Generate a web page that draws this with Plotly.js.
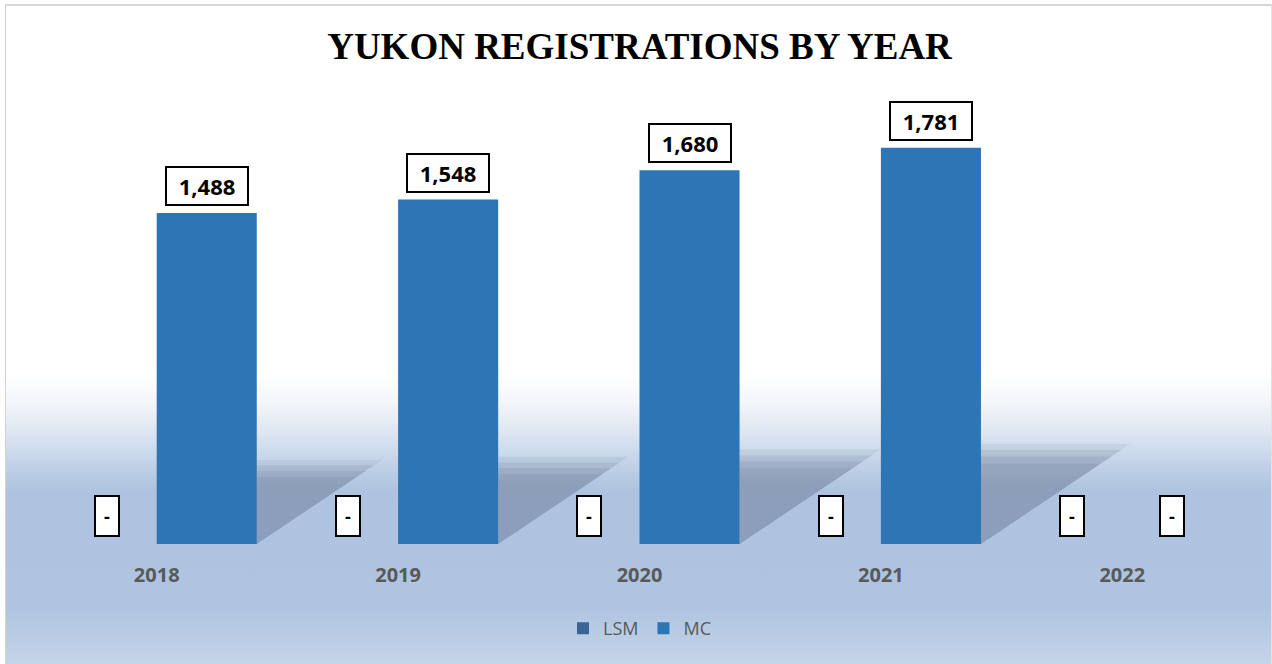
<!DOCTYPE html>
<html>
<head>
<meta charset="utf-8">
<script src="https://cdn.plot.ly/plotly-3.0.1.min.js"></script>
<style>
  html, body { margin: 0; padding: 0; background: #ffffff; }
  #frame {
    position: absolute; left: 5px; top: 4px; width: 1265px; height: 660px;
    border-left: 1px solid #d2d2d2; border-top: 2px solid #d6d6d6; border-right: 1px solid #e2e2e2;
    background: linear-gradient(to bottom,
      #ffffff 0px, #ffffff 366px, #f3f6fa 396px, #e4eaf4 418px, #d3dfee 438px,
      #c0d0e6 460px, #adc3df 485px, #aec4e0 600px, #c5d5e9 660px);
  }
  #chart { position: absolute; left: 0; top: 0; width: 1272px; height: 664px; }
</style>
</head>
<body>
<div id="frame"></div>
<div id="chart"></div>
<script>
// ---- data ----
var years = ['2018', '2019', '2020', '2021', '2022'];
var lsmValues = [0, 0, 0, 0, 0];
var mcValues = [1488, 1548, 1680, 1781, 0];
var seriesNames = ['LSM', 'MC'];
var chartTitle = 'YUKON REGISTRATIONS BY YEAR';

// ---- styling / geometry ----
var idx = years.map(function (_, i) { return i; });
var bargap = 0.171;
var barW = (1 - bargap) / 2;          // width of one bar in category units
var lsmColor = '#3C6597';
var mcColor = '#2E75B6';

function fmt(v) { return v === 0 ? '-' : v.toLocaleString('en-US'); }

var traces = [];

// soft shadows cast by the MC bars (decoration derived from the bar values),
// built from a few stacked translucent layers to imitate a blur
var shadowLayers = [
  { grow: 1.10, alpha: 0.10 },
  { grow: 1.03, alpha: 0.12 },
  { grow: 0.96, alpha: 0.13 },
  { grow: 0.88, alpha: 0.12 }
];
mcValues.forEach(function (v, i) {
  if (v === 0) return;
  var xr = i + barW;                   // right edge of MC bar
  shadowLayers.forEach(function (L) {
    var dx = v * 0.000316 * L.grow;
    var dy = v * 0.23 * L.grow;
    traces.push({
      type: 'scatter', mode: 'lines', x: [xr, xr + dx, xr, xr], y: [0, dy, dy, 0],
      fill: 'toself', fillcolor: 'rgba(90,104,128,' + L.alpha + ')', line: { width: 0, color: 'rgba(0,0,0,0)' },
      showlegend: false, hoverinfo: 'skip'
    });
  });
});

traces.unshift(
  { type: 'bar', name: seriesNames[0], x: idx, y: lsmValues, marker: { color: lsmColor }, hoverinfo: 'skip' },
  { type: 'bar', name: seriesNames[1], x: idx, y: mcValues, marker: { color: mcColor }, hoverinfo: 'skip' }
);

var annotations = [];
function addLabels(vals, offset) {
  vals.forEach(function (v, i) {
    var zero = v === 0;
    annotations.push({
      x: i + offset, y: v, xref: 'x', yref: 'y',
      text: '<b>' + fmt(v) + '</b>', showarrow: false,
      xanchor: 'center', yanchor: 'bottom', yshift: 7,
      font: { family: 'Open Sans, sans-serif', size: zero ? 18 : 22, color: '#000000' },
      bgcolor: '#ffffff', bordercolor: '#000000', borderwidth: 2, borderpad: zero ? 4 : 6,
      width: zero ? 14 : 68, height: zero ? 30 : 24, align: 'center', valign: 'middle'
    });
  });
}
addLabels(lsmValues, -barW / 2);
addLabels(mcValues, barW / 2);

var layout = {
  width: 1272, height: 664,
  margin: { l: 36, r: 29, t: 99, b: 120, pad: 0 },
  paper_bgcolor: 'rgba(0,0,0,0)', plot_bgcolor: 'rgba(0,0,0,0)',
  barmode: 'group', bargap: bargap, bargroupgap: 0,
  title: {
    text: '<b>' + chartTitle + '</b>',
    font: { family: 'Liberation Serif, Times New Roman, serif', size: 37, color: '#000000' },
    x: 0.5, xref: 'paper', xanchor: 'center', y: 1 - 46 / 664, yanchor: 'middle'
  },
  xaxis: {
    type: 'linear', range: [-0.5, idx.length - 0.5],
    tickvals: idx, ticktext: years, ticks: '', showgrid: false, zeroline: false, showline: false,
    tickfont: { family: 'Open Sans, sans-serif', size: 20, color: '#595959', weight: 'bold' },
    ticklabelstandoff: 17, fixedrange: true
  },
  yaxis: {
    range: [0, 2000], visible: false, showgrid: false, zeroline: false, fixedrange: true
  },
  showlegend: true,
  legend: {
    orientation: 'h', x: 0.5, xanchor: 'center', y: -0.19, yanchor: 'middle',
    font: { family: 'Open Sans, sans-serif', size: 18, color: '#595959' },
    bgcolor: 'rgba(0,0,0,0)', itemwidth: 30, traceorder: 'normal'
  },
  annotations: annotations
};

Plotly.newPlot('chart', traces, layout, { displayModeBar: false, staticPlot: true });
</script>
</body>
</html>
